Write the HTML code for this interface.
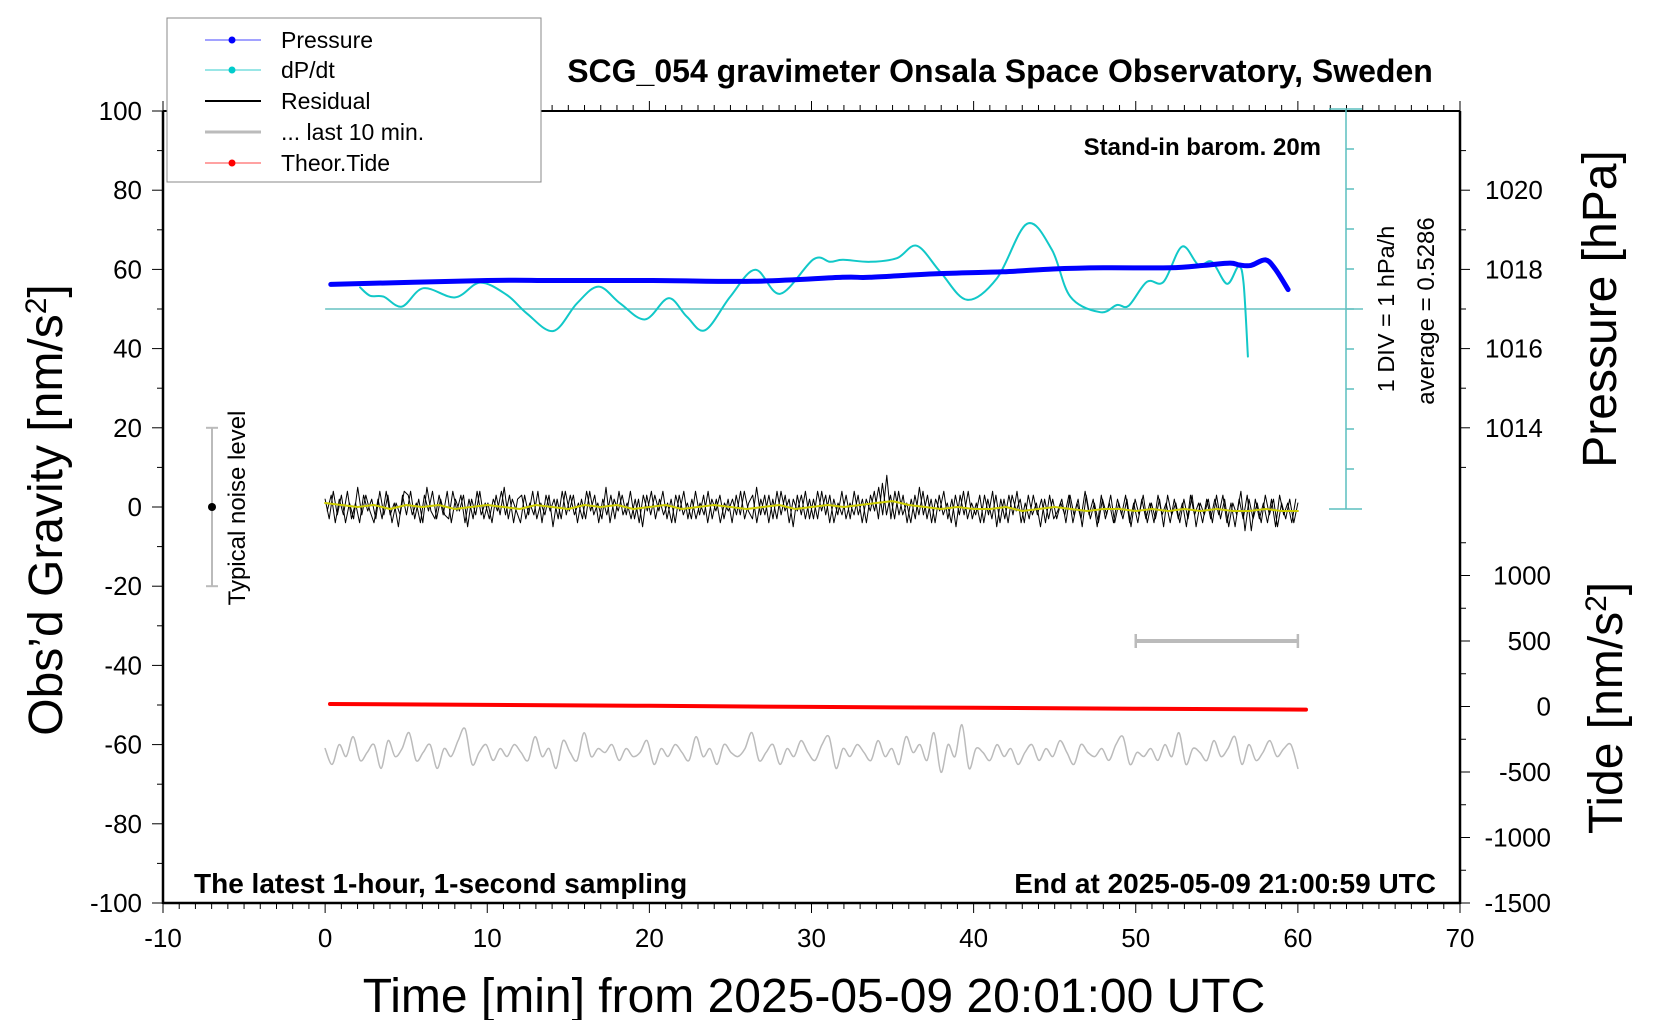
<!DOCTYPE html>
<html><head><meta charset="utf-8"><style>
html,body{margin:0;padding:0;background:#fff;}
svg{display:block;font-family:"Liberation Sans",Arial,sans-serif;}
</style></head><body>
<svg id="chart" width="1660" height="1020" viewBox="0 0 1660 1020" xmlns="http://www.w3.org/2000/svg">
<rect x="0" y="0" width="1660" height="1020" fill="#fff"/>
<g id="axes"></g>
<g id="marks"></g>
<text x="1000" y="82" font-size="32" font-weight="bold" text-anchor="middle">SCG_054 gravimeter Onsala Space Observatory, Sweden</text>
<text x="1321" y="155" font-size="24" font-weight="bold" text-anchor="end">Stand-in barom. 20m</text>
<text x="194" y="893" font-size="28" font-weight="bold">The latest 1-hour, 1-second sampling</text>
<text x="1436" y="893" font-size="28" font-weight="bold" text-anchor="end">End at 2025-05-09 21:00:59 UTC</text>
<text transform="translate(62,510) rotate(-90)" font-size="48" text-anchor="middle">Obs’d Gravity [nm/s<tspan baseline-shift="super" font-size="30">2</tspan>]</text>
<text x="814" y="1012" font-size="48" text-anchor="middle">Time [min] from 2025-05-09 20:01:00 UTC</text>
<text transform="translate(1616,309) rotate(-90)" font-size="48" text-anchor="middle">Pressure [hPa]</text>
<text transform="translate(1622,708) rotate(-90)" font-size="48" text-anchor="middle">Tide [nm/s<tspan baseline-shift="super" font-size="30">2</tspan>]</text>
<text transform="translate(1394,309) rotate(-90)" font-size="23.5" text-anchor="middle">1 DIV = 1 hPa/h</text>
<text transform="translate(1434,311) rotate(-90)" font-size="24" text-anchor="middle">average = 0.5286</text>
<text transform="translate(245,508) rotate(-90)" font-size="24" text-anchor="middle">Typical noise level</text>
<g>
<rect x="167" y="18" width="374" height="164" fill="#fff" stroke="#888" stroke-width="1"/>
<g><line x1="205" y1="40" x2="261" y2="40" stroke="#44f" stroke-width="1"/><circle cx="232" cy="40" r="3.5" fill="#00f"/><text x="281" y="48" font-size="23">Pressure</text></g>
<g><line x1="205" y1="70" x2="261" y2="70" stroke="#3cc" stroke-width="1"/><circle cx="232" cy="70" r="3.5" fill="#0cc"/><text x="281" y="78" font-size="23">dP/dt</text></g>
<g><line x1="205" y1="101" x2="261" y2="101" stroke="#000" stroke-width="2"/><text x="281" y="109" font-size="23">Residual</text></g>
<g><line x1="205" y1="132" x2="261" y2="132" stroke="#bbb" stroke-width="3"/><text x="281" y="140" font-size="23">... last 10 min.</text></g>
<g><line x1="205" y1="163" x2="261" y2="163" stroke="#f44" stroke-width="1"/><circle cx="232" cy="163" r="3.5" fill="#f00"/><text x="281" y="171" font-size="23">Theor.Tide</text></g>
</g>
</svg>
<script>
const xTicks = [-10,0,10,20,30,40,50,60,70];
const yTicks = [100,80,60,40,20,0,-20,-40,-60,-80,-100];
const pTicks = [1020,1018,1016,1014];
const tideTicks = [1000,500,0,-500,-1000,-1500];

const pressT = [0.35,10,14.1,20.2,26.4,31.9,33.6,37.7,41.8,44.9,48.0,52.1,54.2,55.8,56.4,57.1,58.0,58.6,59.4];
const pressV = [1017.62,1017.72,1017.72,1017.72,1017.70,1017.80,1017.80,1017.89,1017.94,1018.01,1018.04,1018.04,1018.10,1018.16,1018.11,1018.10,1018.24,1018.01,1017.49];

const dpT = [2.16,2.78,3.60,4.73,6.06,8.02,9.56,11.21,12.44,14.08,15.53,16.86,18.20,19.74,21.18,22.31,23.44,24.99,26.53,28.07,30.12,31.15,31.94,33.62,35.27,36.50,37.94,39.59,41.44,43.29,44.83,45.96,47.81,48.84,49.56,50.69,51.72,52.85,53.87,54.70,55.63,56.34,56.65,56.92];
const dpV = [0.54,0.33,0.31,0.06,0.52,0.29,0.66,0.35,-0.11,-0.55,0.14,0.56,0.14,-0.26,0.27,-0.19,-0.53,0.31,0.98,0.38,1.24,1.18,1.23,1.18,1.27,1.58,0.93,0.23,0.77,2.13,1.48,0.31,-0.08,0.10,0.08,0.68,0.68,1.56,1.10,1.18,0.63,1.06,0.64,-1.19];

const residual = [
2,-3,4,-2,3,-4,1,-3,5,-2,3,-1,-4,2,-3,4,-2,1,-5,3,
-2,4,-3,2,-4,5,-1,-3,3,-2,4,-4,2,-1,3,-5,2,-2,4,-3,
1,-4,3,-2,5,-3,2,-1,-4,3,-2,4,-3,1,-2,3,-5,2,-3,4,
-1,3,-4,2,-3,4,-2,1,-3,5,-4,2,-1,3,-2,4,-3,2,-5,3,
-2,3,-1,4,-3,2,-4,3,-2,1,-3,4,-2,3,-4,2,-1,3,-3,2,
-4,3,-2,4,-1,-3,5,-2,3,-4,2,-3,4,-1,2,-5,3,-2,4,-3,
2,-3,4,-2,3,-4,1,-2,3,-3,4,-2,2,-4,3,-1,5,-2,8,-3,
4,-2,3,-4,2,-3,5,-2,3,-4,2,-1,4,-3,2,-5,3,-2,4,-3,
1,-4,3,-2,4,-5,2,-3,3,-2,4,-4,1,-3,3,-2,2,-4,3,-3,
-1,2,-4,3,-2,2,-5,3,-3,1,-4,2,-2,3,-4,1,-3,2,-5,2,
-2,3,-4,1,-3,2,-5,3,-2,1,-4,2,-3,3,-5,1,-2,2,-4,3,
-3,2,-5,1,-2,4,-6,2,-3,1,-4,3,-2,2,-5,1,-3,2,-4,1];
const residualB = [
-1,3,-4,2,-2,4,-3,1,-4,3,-1,2,-3,4,-2,3,-4,1,-2,4,
3,-2,1,-4,3,-1,4,-3,2,-2,-3,4,-1,3,-4,2,-3,4,-2,1,
-3,2,-1,4,-2,3,-4,2,3,-3,1,-2,4,-4,3,-1,2,-3,4,-2,
3,-2,1,-3,4,-1,3,-4,2,-2,3,-3,4,-2,1,-3,2,-4,3,-1,
4,-3,2,-2,1,-4,3,-1,4,-3,2,-3,1,-2,4,-3,2,-4,1,-1,
2,-2,4,-3,1,3,-4,2,-2,3,-3,4,-2,3,-4,2,-1,3,-3,2,
-3,4,-1,3,-4,2,-2,4,-3,1,-2,3,-4,2,-1,4,-3,6,-2,3,
-3,4,-2,1,-4,3,-2,4,-3,2,-4,3,-2,1,-4,3,-2,4,-3,1,
-2,3,-4,2,-3,3,-4,2,-4,3,-1,2,-4,3,-2,1,-5,2,-3,2,
-3,1,-2,3,-4,1,-3,4,-2,2,-5,3,-3,1,-4,2,-2,3,-4,1,
-4,2,-3,1,-4,3,-2,1,-4,2,-3,1,-5,3,-2,1,-4,2,-3,2,
-2,3,-4,1,-5,2,-3,3,-6,2,-3,1,-4,2,-5,3,-2,1,-4,2];
const smooth = [1,0.5,0,0.5,-0.5,0.5,0,0.5,-0.5,0,0.5,0,-0.5,0.5,0,-0.5,0.5,0,0.5,-0.5,0,0.5,-0.5,0,0.5,0,-0.5,0,0.5,-0.5,0,0.5,0,0.5,1,1.5,0.5,0,-0.5,0,-0.5,-0.5,0,-1,-0.5,0,-0.5,-1,-0.5,-0.5,-1,-0.5,-1,-0.5,-1,-0.5,-1,-1,-0.5,-1,-1];
const last10 = [
-61,-65,-60,-63,-58,-64,-62,-60,-66,-59,-63,-61,-57,-64,-62,-60,-66,-61,-63,-59,
-56,-65,-62,-60,-64,-61,-63,-60,-62,-64,-58,-63,-61,-66,-59,-62,-64,-57,-63,-61,
-62,-60,-64,-61,-63,-62,-59,-65,-61,-63,-60,-62,-64,-58,-63,-61,-65,-60,-62,-63,
-61,-57,-64,-62,-60,-65,-61,-63,-59,-62,-64,-60,-58,-66,-61,-63,-60,-62,-64,-59,
-63,-61,-65,-58,-62,-60,-64,-57,-67,-60,-63,-55,-66,-61,-62,-64,-60,-63,-61,-65,
-62,-60,-64,-61,-63,-59,-62,-65,-60,-62,-63,-61,-64,-60,-58,-65,-62,-63,-61,-64,
-60,-63,-57,-65,-61,-62,-64,-59,-63,-61,-58,-65,-60,-64,-62,-59,-63,-61,-60,-66];
const tideT = [0.3,10,20,30,40,50,60.5];
const tideV = [19,12,5,-3,-10,-17,-24];
const noiseBar = [20,-20];
const tenMinBar = [50,60];
const tenMinLevel = [500];

const L=163,R=1460,T=111,B=903;
const X = t => L + (t+10)*(R-L)/80;
const Y = v => B - (v+100)*(B-T)/200;
const YP = p => Y(80 + (p-1020)*10);
const YT = n => 706.5 - n*0.131;
const dpBase = 309, dpX = 1346;
const YD = d => dpBase - d*40;
const NS='http://www.w3.org/2000/svg';
const axes=document.getElementById('axes'), marks=document.getElementById('marks');
function mk(tag,parent,attrs){const e=document.createElementNS(NS,tag);for(const k in attrs)e.setAttribute(k,attrs[k]);parent.appendChild(e);return e;}
function line(parent,x1,y1,x2,y2,stroke,w){return mk('line',parent,{x1:x1,y1:y1,x2:x2,y2:y2,stroke:stroke,'stroke-width':w});}
function poly(parent,pts,stroke,w){return mk('polyline',parent,{points:pts.map(p=>p[0].toFixed(1)+','+p[1].toFixed(1)).join(' '),fill:'none',stroke:stroke,'stroke-width':w,'stroke-linejoin':'round','stroke-linecap':'round'});}
function curve(parent,pts,stroke,w){
  let d='M'+pts[0][0].toFixed(1)+','+pts[0][1].toFixed(1);
  for(let i=0;i<pts.length-1;i++){
    const p0=pts[Math.max(0,i-1)],p1=pts[i],p2=pts[i+1],p3=pts[Math.min(pts.length-1,i+2)];
    const c1=[p1[0]+(p2[0]-p0[0])/6,p1[1]+(p2[1]-p0[1])/6];
    const c2=[p2[0]-(p3[0]-p1[0])/6,p2[1]-(p3[1]-p1[1])/6];
    d+=' C'+c1[0].toFixed(1)+','+c1[1].toFixed(1)+' '+c2[0].toFixed(1)+','+c2[1].toFixed(1)+' '+p2[0].toFixed(1)+','+p2[1].toFixed(1);
  }
  return mk('path',parent,{d:d,fill:'none',stroke:stroke,'stroke-width':w,'stroke-linejoin':'round','stroke-linecap':'round'});
}

let e=line(axes,L,T,L,B+1,'#000',2.5);


e=line(axes,L,B,R,B,'#000',2.5);


e=line(axes,R,T,R,B+1,'#000',2.5);


e=line(axes,L,T,R,T,'#000',2);



for(let m=-10;m<=70;m++){
  const major = m%10===0;
  e=line(axes,X(m),B,X(m),B+(major?10:6),'#000',1);
  
  
  e=line(axes,X(m),T,X(m),T-(major?10:6),'#000',1);
  
  
}
xTicks.forEach(v=>{
  e=mk('text',axes,{x:X(v),y:947,'font-size':26,'text-anchor':'middle'});
  e.textContent=v;
  
  
});
for(let v=-100;v<=100;v+=10){
  const major=v%20===0;
  e=line(axes,L,Y(v),L-(major?11:6),Y(v),'#000',1);
  
  
}
yTicks.forEach(v=>{
  e=mk('text',axes,{x:142,y:Y(v)+9,'font-size':26,'text-anchor':'end'});
  e.textContent=v;
  
  
});
for(let p=1013;p<=1021;p++){
  const major=p%2===0;
  e=line(axes,R,YP(p),R+(major?10:6),YP(p),'#000',1);
  
  
}
pTicks.forEach(p=>{
  e=mk('text',axes,{x:1485,y:YP(p)+9,'font-size':26});
  e.textContent=p;
  
  
});
for(let n=-1500;n<=1250;n+=250){
  const major=n%500===0;
  e=line(axes,R,YT(n),R+(major?10:6),YT(n),'#000',1);
  
  
}
tideTicks.forEach(n=>{
  e=mk('text',axes,{x:1551,y:YT(n)+9,'font-size':26,'text-anchor':'end'});
  e.textContent=n;
  
  
});
e=line(axes,dpX,YD(5),dpX,YD(-5),'#5bbfbf',1.5);


for(let d=-5;d<=5;d++){
  const end=(d===5||d===-5);
  e=line(axes,end?dpX-17:dpX,YD(d),end?dpX+16:dpX+8,YD(d),'#5bbfbf',1.5);
  
  
}
e=line(axes,X(0),YD(0),dpX+17,YD(0),'#66c2c2',1.5);



e=line(marks,212,Y(noiseBar[0]),212,Y(noiseBar[1]),'#bbb',2);


[noiseBar[0],noiseBar[1]].forEach(v=>{
  e=line(marks,206,Y(v),218,Y(v),'#bbb',2);
  
  
});
e=mk('circle',marks,{cx:212,cy:Y(0),r:4,fill:'#000'});



e=line(marks,X(tenMinBar[0]),YT(tenMinLevel[0]),X(tenMinBar[1]),YT(tenMinLevel[0]),'#bbb',4);


tenMinBar.forEach(t=>{
  e=line(marks,X(t),YT(tenMinLevel[0])-7,X(t),YT(tenMinLevel[0])+7,'#bbb',2.5);
  
  
});

e=curve(marks,dpT.map((t,i)=>[X(t),YD(dpV[i])]),'#11c8c8',2);


e=curve(marks,pressT.map((t,i)=>[X(t),YP(pressV[i])]),'#0000ff',5);


e=poly(marks,residual.map((v,i)=>[X(i*60/(residual.length-1)),Y(v)]),'#000',1);


e=poly(marks,residualB.map((v,i)=>[X((i+0.5)*60/(residualB.length)),Y(v)]),'#000',1);


e=poly(marks,smooth.map((v,i)=>[X(i),Y(v)]),'#cccc00',2);


e=curve(marks,last10.map((v,i)=>[X(i*60/(last10.length-1)),Y(v)]),'#bbb',1.5);


e=poly(marks,tideT.map((t,i)=>[X(t),YT(tideV[i])]),'#ff0000',4);


</script>
</body></html>
